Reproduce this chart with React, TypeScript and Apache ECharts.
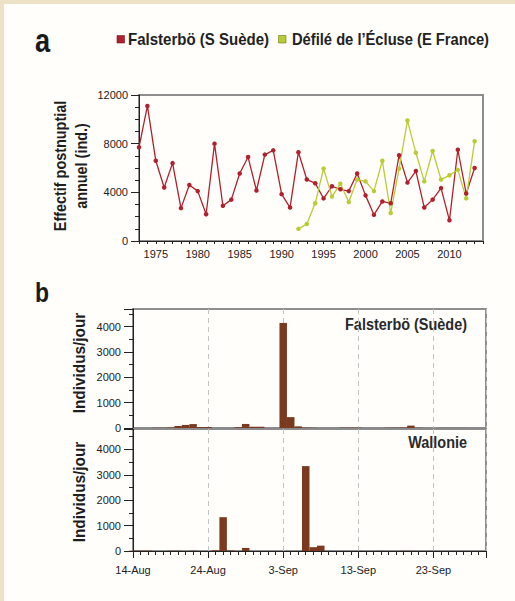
import React, { useEffect, useRef } from 'react';
import * as echarts from 'echarts';

const years = [1973, 1974, 1975, 1976, 1977, 1978, 1979, 1980, 1981, 1982, 1983, 1984, 1985, 1986, 1987, 1988, 1989, 1990, 1991, 1992, 1993, 1994, 1995, 1996, 1997, 1998, 1999, 2000, 2001, 2002, 2003, 2004, 2005, 2006, 2007, 2008, 2009, 2010, 2011, 2012, 2013];
const falsterboAnnual = [7700, 11100, 6600, 4400, 6400, 2700, 4600, 4100, 2200, 8000, 2900, 3400, 5550, 6900, 4150, 7100, 7450, 3850, 2750, 7300, 5050, 4750, 3500, 4500, 4250, 4100, 5550, 3750, 2150, 3250, 3100, 7050, 4800, 5750, 2750, 3400, 4350, 1700, 7500, 3900, 6000];
const ecluseYears = [1992, 1993, 1994, 1995, 1996, 1997, 1998, 1999, 2000, 2001, 2002, 2003, 2004, 2005, 2006, 2007, 2008, 2009, 2010, 2011, 2012, 2013];
const ecluseAnnual = [1000, 1400, 3100, 5950, 3650, 4700, 3200, 5050, 4900, 4100, 6600, 2300, 5950, 9900, 7250, 4900, 7400, 5050, 5400, 5850, 3500, 8200];

const days = [0, 1, 2, 3, 4, 5, 6, 7, 8, 9, 10, 11, 12, 13, 14, 15, 16, 17, 18, 19, 20, 21, 22, 23, 24, 25, 26, 27, 28, 29, 30, 31, 32, 33, 34, 35, 36, 37, 38, 39, 40, 41, 42, 43, 44, 45, 46, 47];
const falsterboDaily = [0, 0, 0, 10, 10, 20, 80, 120, 155, 40, 40, 0, 0, 0, 30, 160, 50, 50, 0, 0, 4150, 430, 65, 15, 10, 0, 0, 0, 15, 15, 15, 0, 0, 0, 10, 15, 20, 95, 10, 0, 0, 5, 5, 5, 5, 0, 0, 0];
const wallonieDaily = [15, 15, 15, 0, 0, 10, 10, 0, 10, 0, 0, 25, 1330, 20, 0, 120, 0, 0, 0, 0, 0, 0, 0, 3340, 150, 210, 5, 0, 0, 0, 5, 0, 0, 5, 0, 0, 5, 5, 0, 0, 5, 0, 0, 0, 0, 0, 0, 0];
const dateTickLabels = ['14-Aug', '24-Aug', '3-Sep', '13-Sep', '23-Sep'];
const seriesNames = ['Falsterbö (S Suède)', 'Défilé de l’Écluse (E France)'];
const panelNames = ['Falsterbö (Suède)', 'Wallonie'];

const RED = '#b1202d';
const GREEN = '#b9cb35';
const BROWN = '#7a3a20';
const FONT = "'Liberation Sans', Arial, sans-serif";

export default function App() {
  const ref = useRef<HTMLDivElement>(null);
  useEffect(() => {
    if (!ref.current) return;
    const chart = echarts.init(ref.current, undefined, { renderer: 'svg' });
    const tickLabel = { color: '#222', fontSize: 11, fontFamily: FONT };
    const boldFont = (s: number) => `bold ${s}px ${FONT}`;
    const option: any = {
      animation: false,
      grid: [
        { left: 139, top: 95, width: 344, height: 146, show: true, borderColor: '#8e8e8e', borderWidth: 2, backgroundColor: 'transparent' },
        { left: 133, top: 309, width: 353, height: 119, show: true, borderColor: '#8e8e8e', borderWidth: 2, backgroundColor: 'transparent' },
        { left: 133, top: 429, width: 353, height: 122, show: true, borderColor: '#8e8e8e', borderWidth: 2, backgroundColor: 'transparent' },
      ],
      xAxis: [
        {
          gridIndex: 0, type: 'value', min: 1973, max: 2014, interval: 1,
          axisLine: { show: true, lineStyle: { color: '#222', width: 1 } },
          axisTick: { show: true, length: 3, lineStyle: { color: '#222' } },
          axisLabel: { ...tickLabel, margin: 7, formatter: (v: number) => (v % 5 === 0 ? String(v) : '') },
          splitLine: { show: false },
        },
        {
          gridIndex: 1, type: 'value', min: 0, max: 47, interval: 10,
          axisLine: { show: true, lineStyle: { color: '#888', width: 1 } },
          axisTick: { show: false },
          axisLabel: { show: false },
          splitLine: { show: true, lineStyle: { color: '#c4c4c4', type: [5, 4], width: 1 } },
        },
        {
          gridIndex: 2, type: 'value', min: 0, max: 47, interval: 10,
          axisLine: { show: true, lineStyle: { color: '#222', width: 1 } },
          axisTick: { show: true, length: 7, lineStyle: { color: '#222' } },
          minorTick: { show: true, splitNumber: 10, length: 4, lineStyle: { color: '#222' } },
          axisLabel: { ...tickLabel, margin: 13, showMaxLabel: false, formatter: (v: number) => dateTickLabels[v / 10] ?? '' },
          splitLine: { show: true, lineStyle: { color: '#c4c4c4', type: [5, 4], width: 1 } },
        },
      ],
      yAxis: [
        {
          gridIndex: 0, type: 'value', min: 0, max: 12000, interval: 4000,
          axisLine: { show: true, lineStyle: { color: '#222', width: 1 } },
          axisTick: { show: true, length: 8, lineStyle: { color: '#222' } },
          minorTick: { show: true, splitNumber: 4, length: 4, lineStyle: { color: '#222' } },
          axisLabel: { ...tickLabel, margin: 11, formatter: (v: number) => String(v) },
          splitLine: { show: false },
        },
        {
          gridIndex: 1, type: 'value', min: 0, max: 4700, interval: 1000,
          axisLine: { show: true, lineStyle: { color: '#222', width: 1 } },
          axisTick: { show: true, length: 9, lineStyle: { color: '#222' } },
          minorTick: { show: true, splitNumber: 2, length: 4, lineStyle: { color: '#222' } },
          axisLabel: { ...tickLabel, margin: 12, showMaxLabel: false, formatter: (v: number) => (v % 1000 === 0 ? String(v) : '') },
          splitLine: { show: false },
        },
        {
          gridIndex: 2, type: 'value', min: 0, max: 4800, interval: 1000,
          axisLine: { show: true, lineStyle: { color: '#222', width: 1 } },
          axisTick: { show: true, length: 9, lineStyle: { color: '#222' } },
          minorTick: { show: true, splitNumber: 2, length: 4, lineStyle: { color: '#222' } },
          axisLabel: { ...tickLabel, margin: 12, showMaxLabel: false, formatter: (v: number) => (v % 1000 === 0 ? String(v) : '') },
          splitLine: { show: false },
        },
      ],
      series: [
        {
          name: seriesNames[0], type: 'line', xAxisIndex: 0, yAxisIndex: 0,
          data: years.map((y, i) => [y, falsterboAnnual[i]]),
          symbol: 'circle', symbolSize: 4.5,
          itemStyle: { color: RED }, lineStyle: { color: RED, width: 1.3 },
        },
        {
          name: seriesNames[1], type: 'line', xAxisIndex: 0, yAxisIndex: 0,
          data: ecluseYears.map((y, i) => [y, ecluseAnnual[i]]),
          symbol: 'circle', symbolSize: 4.5,
          itemStyle: { color: GREEN }, lineStyle: { color: GREEN, width: 1.3 },
        },
        {
          name: panelNames[0], type: 'bar', xAxisIndex: 1, yAxisIndex: 1,
          data: days.map((d, i) => [d, falsterboDaily[i]]),
          barWidth: 7.5, itemStyle: { color: BROWN },
        },
        {
          name: panelNames[1], type: 'bar', xAxisIndex: 2, yAxisIndex: 2,
          data: days.map((d, i) => [d, wallonieDaily[i]]),
          barWidth: 7.5, itemStyle: { color: BROWN },
        },
      ],
      graphic: [
        { type: 'text', x: 35, y: 40, scaleX: 0.8, style: { text: 'a', font: boldFont(34), fill: '#1a1a1a', align: 'left', verticalAlign: 'middle' } },
        { type: 'text', x: 35, y: 292, scaleX: 0.82, style: { text: 'b', font: boldFont(28), fill: '#1a1a1a', align: 'left', verticalAlign: 'middle' } },
        // legend
        { type: 'rect', shape: { x: 117, y: 35.5, width: 7.5, height: 7.5 }, style: { fill: RED, stroke: '#7d1520', lineWidth: 0.6 } },
        { type: 'text', x: 128, y: 39.5, scaleX: 0.94, style: { text: seriesNames[0], font: boldFont(16), fill: '#222', align: 'left', verticalAlign: 'middle' } },
        { type: 'rect', shape: { x: 278.5, y: 35.5, width: 7.5, height: 7.5 }, style: { fill: GREEN, stroke: '#6c7a12', lineWidth: 0.6 } },
        { type: 'text', x: 292, y: 39.5, scaleX: 0.92, style: { text: seriesNames[1], font: boldFont(16), fill: '#222', align: 'left', verticalAlign: 'middle' } },
        // axis titles
        {
          type: 'text', x: 71, y: 166, rotation: Math.PI / 2, scaleX: 0.9,
          style: { text: 'Effectif postnuptial\nannuel (ind.)', font: boldFont(16), fill: '#1e1e1e', align: 'center', verticalAlign: 'middle', lineHeight: 21 },
        },
        {
          type: 'text', x: 79, y: 363, rotation: Math.PI / 2, scaleX: 0.96,
          style: { text: 'Individus/jour', font: boldFont(16), fill: '#1e1e1e', align: 'center', verticalAlign: 'middle' },
        },
        {
          type: 'text', x: 79, y: 492, rotation: Math.PI / 2, scaleX: 0.96,
          style: { text: 'Individus/jour', font: boldFont(16), fill: '#1e1e1e', align: 'center', verticalAlign: 'middle' },
        },
        { type: 'text', x: 467, y: 324, scaleX: 0.85, style: { text: panelNames[0], font: boldFont(17), fill: '#2a2a2a', align: 'right', verticalAlign: 'middle' } },
        { type: 'text', x: 467, y: 442, scaleX: 0.85, style: { text: panelNames[1], font: boldFont(17), fill: '#2a2a2a', align: 'right', verticalAlign: 'middle' } },
      ],
    };
    chart.setOption(option);
    return () => chart.dispose();
  }, []);
  return (
    <div style={{ position: 'fixed', left: 0, top: 0, width: 515, height: 601, background: '#fffefb', overflow: 'hidden' }}>
      <div style={{ position: 'absolute', left: 0, top: 0, width: 515, height: 4, background: '#eee2c6' }} />
      <div style={{ position: 'absolute', left: 0, top: 0, width: 4, height: 601, background: '#eee2c6' }} />
      <div ref={ref} style={{ position: 'absolute', left: 0, top: 0, width: 515, height: 601 }} />
    </div>
  );
}
